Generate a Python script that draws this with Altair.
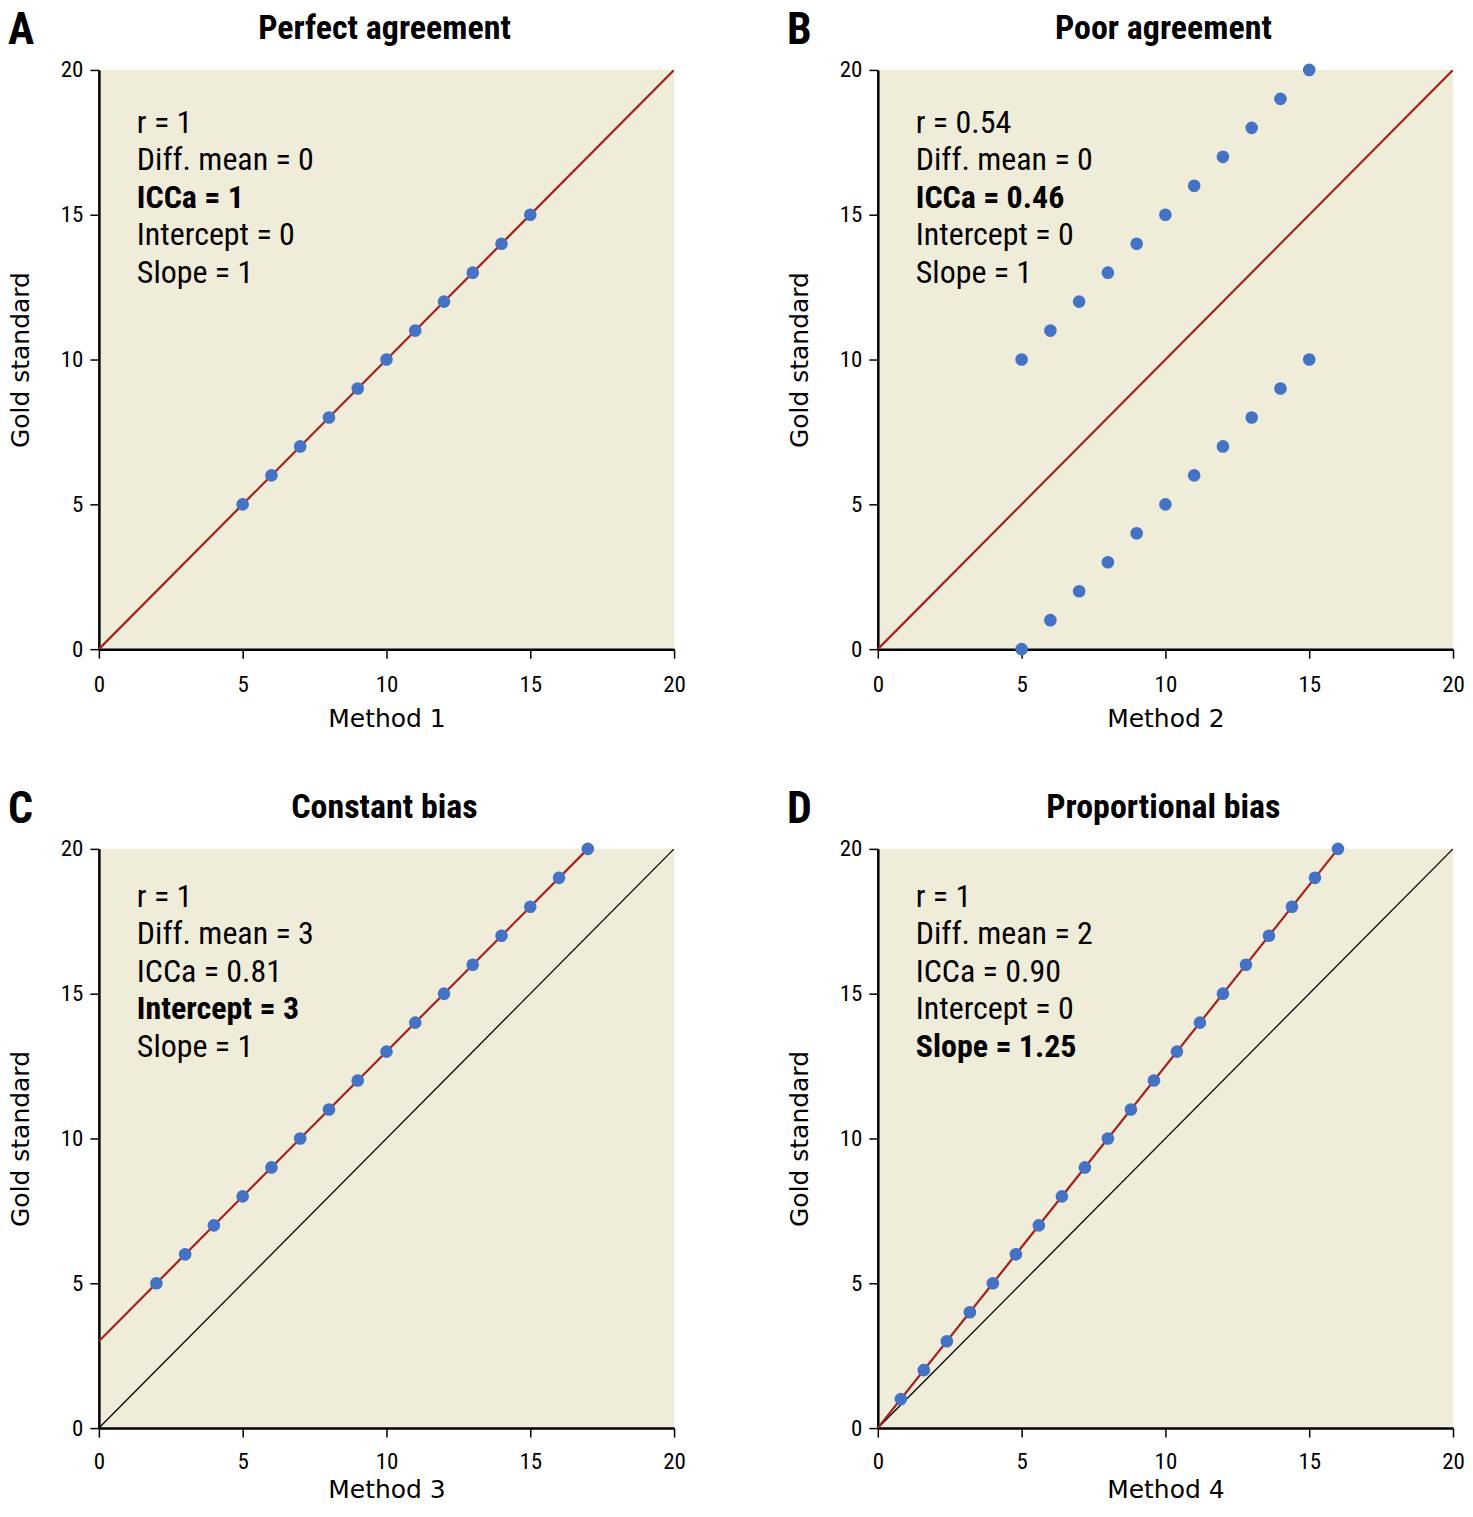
import altair as alt
import pandas as pd

NARROW = ("'Noto Sans ExtraCondensed', 'Noto Sans Condensed', 'Roboto Condensed', "
          "'Open Sans Condensed', 'Liberation Sans Narrow', 'DejaVu Sans Condensed', "
          "'Liberation Sans', sans-serif")
SANS = "'DejaVu Sans', sans-serif"

letters = ["A", "B", "C", "D"]
titles = ["Perfect agreement", "Poor agreement", "Constant bias", "Proportional bias"]
x_titles = ["Method 1", "Method 2", "Method 3", "Method 4"]
y_title = "Gold standard"
ticks = [0, 5, 10, 15, 20]

# scatter points
a_x = [5, 6, 7, 8, 9, 10, 11, 12, 13, 14, 15]
a_y = [5, 6, 7, 8, 9, 10, 11, 12, 13, 14, 15]
b_x = [5, 6, 7, 8, 9, 10, 11, 12, 13, 14, 15, 5, 6, 7, 8, 9, 10, 11, 12, 13, 14, 15]
b_y = [10, 11, 12, 13, 14, 15, 16, 17, 18, 19, 20, 0, 1, 2, 3, 4, 5, 6, 7, 8, 9, 10]
c_x = [2, 3, 4, 5, 6, 7, 8, 9, 10, 11, 12, 13, 14, 15, 16, 17]
c_y = [5, 6, 7, 8, 9, 10, 11, 12, 13, 14, 15, 16, 17, 18, 19, 20]
d_x = [0.8, 1.6, 2.4, 3.2, 4.0, 4.8, 5.6, 6.4, 7.2, 8.0, 8.8, 9.6, 10.4, 11.2, 12.0,
       12.8, 13.6, 14.4, 15.2, 16.0]
d_y = [1, 2, 3, 4, 5, 6, 7, 8, 9, 10, 11, 12, 13, 14, 15, 16, 17, 18, 19, 20]

# fitted (red) lines
a_fit_x, a_fit_y = [0, 20], [0, 20]
b_fit_x, b_fit_y = [0, 20], [0, 20]
c_fit_x, c_fit_y = [0, 17], [3, 20]
d_fit_x, d_fit_y = [0, 16], [0, 20]
# identity (black) lines
ident_x, ident_y = [0, 20], [0, 20]

# annotations and which line is bold
a_ann = ["r = 1", "Diff. mean = 0", "ICCa = 1", "Intercept = 0", "Slope = 1"]
b_ann = ["r = 0.54", "Diff. mean = 0", "ICCa = 0.46", "Intercept = 0", "Slope = 1"]
c_ann = ["r = 1", "Diff. mean = 3", "ICCa = 0.81", "Intercept = 3", "Slope = 1"]
d_ann = ["r = 1", "Diff. mean = 2", "ICCa = 0.90", "Intercept = 0", "Slope = 1.25"]
bold_idx = [2, 2, 3, 4]

panels = [
    (a_x, a_y, a_fit_x, a_fit_y, False, a_ann),
    (b_x, b_y, b_fit_x, b_fit_y, False, b_ann),
    (c_x, c_y, c_fit_x, c_fit_y, True, c_ann),
    (d_x, d_y, d_fit_x, d_fit_y, True, d_ann),
]

W, H = 576, 580
BG = "#F0ECDA"
BLUE = "#4472C4"
RED = "#A3221E"


def panel(i):
    px, py, fx, fy, ident, ann = panels[i]
    sx = alt.Scale(domain=[0, 20], nice=False, zero=False)
    sy = alt.Scale(domain=[0, 20], nice=False, zero=False)
    if i < 2:
        xax = alt.Axis(values=ticks, title=x_titles[i], labelPadding=15, titlePadding=10)
    else:
        xax = alt.Axis(values=ticks, title=x_titles[i], labelPadding=13, titlePadding=5)
    yax = alt.Axis(values=ticks, title=y_title)

    layers = []
    if ident:
        idf = pd.DataFrame({"x": ident_x, "y": ident_y})
        layers.append(
            alt.Chart(idf).mark_line(color="black", strokeWidth=1.3, clip=True).encode(
                x=alt.X("x:Q", scale=sx, axis=xax), y=alt.Y("y:Q", scale=sy, axis=yax)
            )
        )
    fdf = pd.DataFrame({"x": fx, "y": fy})
    layers.append(
        alt.Chart(fdf).mark_line(color=RED, strokeWidth=2.2, clip=True).encode(
            x=alt.X("x:Q", scale=sx, axis=xax), y=alt.Y("y:Q", scale=sy, axis=yax)
        )
    )
    pdf = pd.DataFrame({"x": px, "y": py})
    layers.append(
        alt.Chart(pdf).mark_circle(size=160, color=BLUE, opacity=1).encode(
            x=alt.X("x:Q", scale=sx, axis=xax), y=alt.Y("y:Q", scale=sy, axis=yax)
        )
    )

    b = bold_idx[i]
    top = 63 if i < 2 else 58
    for k, s in enumerate(ann):
        tdf = pd.DataFrame({"t": [s]})
        layers.append(
            alt.Chart(tdf).mark_text(
                font=NARROW, fontSize=32, fontWeight="bold" if k == b else "normal",
                align="left", baseline="alphabetic", color="black"
            ).encode(x=alt.value(38), y=alt.value(top + 37.5 * k), text="t:N")
        )

    ttl = pd.DataFrame({"t": [titles[i]]})
    layers.append(
        alt.Chart(ttl).mark_text(
            font=NARROW, fontSize=34, fontWeight="bold", align="center",
            baseline="alphabetic", color="black"
        ).encode(x=alt.value(W / 2 - 2), y=alt.value(-31), text="t:N")
    )
    let = pd.DataFrame({"t": [letters[i]]})
    layers.append(
        alt.Chart(let).mark_text(
            font=NARROW, fontSize=44, fontWeight="bold", align="left",
            baseline="alphabetic", color="black"
        ).encode(x=alt.value(-91), y=alt.value(-26), text="t:N")
    )
    return alt.layer(*layers).properties(width=W, height=H)


row1 = alt.hconcat(panel(0), panel(1), spacing=101)
row2 = alt.hconcat(panel(2), panel(3), spacing=101)
chart = (
    alt.vconcat(row1, row2, spacing=57)
    .properties(padding={"left": 0, "top": 0, "right": 0, "bottom": 0}, background="white")
    .configure_view(stroke=None, fill=BG)
    .configure_axis(
        grid=False,
        domainColor="black",
        domainWidth=2.5,
        tickColor="black",
        tickWidth=1.5,
        tickSize=9,
        labelFont=NARROW,
        labelFontSize=23,
        labelColor="black",
        labelFlush=False,
        labelOverlap=False,
        titleFont=SANS,
        titleFontSize=25,
        titleFontWeight="normal",
        titleColor="black",
    )
    .configure_axisY(labelPadding=7, titlePadding=27)
)

chart.save("out.html", embed_options={"renderer": "svg", "actions": False})
